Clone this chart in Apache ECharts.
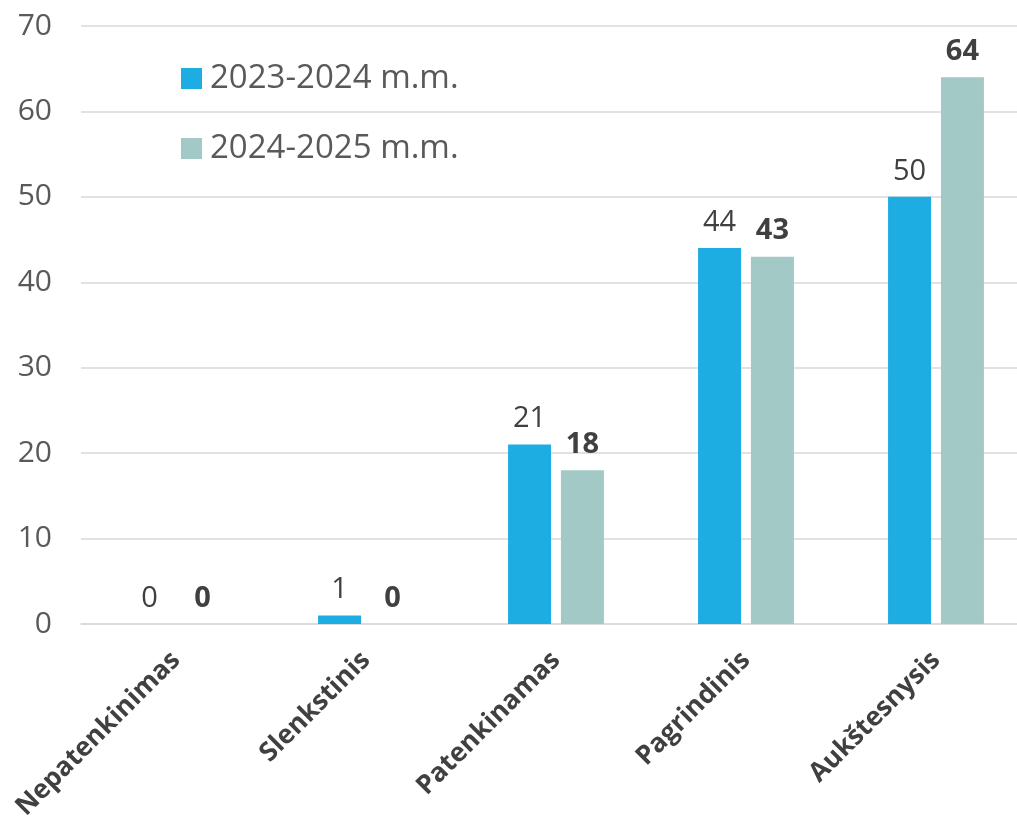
<!DOCTYPE html>
<html><head><meta charset="utf-8">
<script src="https://cdn.jsdelivr.net/npm/echarts@6/dist/echarts.min.js"></script>
<style>html,body{margin:0;padding:0;background:#fff}#c{width:1017px;height:818px}</style>
</head><body><div id="c"></div>
<script>
const categories = ['Nepatenkinimas','Slenkstinis','Patenkinamas','Pagrindinis','Aukštesnysis'];
const seriesNames = ['2023-2024 m.m.','2024-2025 m.m.'];
const values2023 = [0, 1, 21, 44, 50];
const values2024 = [0, 0, 18, 43, 64];
const yTicks = {min: 0, max: 70, interval: 10};

const FONT = '"Open Sans", "Noto Sans", sans-serif';
const chart = echarts.init(document.getElementById('c'), null, {renderer: 'canvas'});
chart.setOption({
  animation: false,
  textStyle: {fontFamily: FONT},
  grid: {left: 81, top: 26, width: 950, bottom: 194, containLabel: false, outerBoundsMode: 'none'},
  legend: {
    orient: 'vertical', left: 176, top: 57, itemGap: 37,
    itemWidth: 21, itemHeight: 21, icon: 'rect',
    textStyle: {fontFamily: FONT, fontSize: 33, color: '#595959', padding: [0,0,0,3]},
    data: seriesNames
  },
  xAxis: {
    type: 'category', data: categories,
    axisLine: {show: true, lineStyle: {color: '#D9D9D9', width: 1.5}},
    axisTick: {show: false},
    axisLabel: {rotate: 45, margin: 32, interval: 0, fontFamily: FONT, fontSize: 26.5, fontWeight: 'bold', color: '#404040'}
  },
  yAxis: {
    type: 'value', min: yTicks.min, max: yTicks.max, interval: yTicks.interval,
    axisLine: {show: false}, axisTick: {show: false},
    splitLine: {lineStyle: {color: '#D9D9D9', width: 1.5}},
    axisLabel: {margin: 29, fontFamily: FONT, fontSize: 30, color: '#595959'}
  },
  series: [
    {name: seriesNames[0], type: 'bar', data: values2023, barWidth: 43, barGap: '23%',
     itemStyle: {color: '#1EADE3'},
     label: {show: true, position: 'top', distance: 11, fontFamily: FONT, fontSize: 29, color: '#404040'}},
    {name: seriesNames[1], type: 'bar', data: values2024, barWidth: 43,
     itemStyle: {color: '#A3C9C6'},
     label: {show: true, position: 'top', distance: 11, fontFamily: FONT, fontSize: 29, fontWeight: 'bold', color: '#404040'}}
  ]
});
</script></body></html>
